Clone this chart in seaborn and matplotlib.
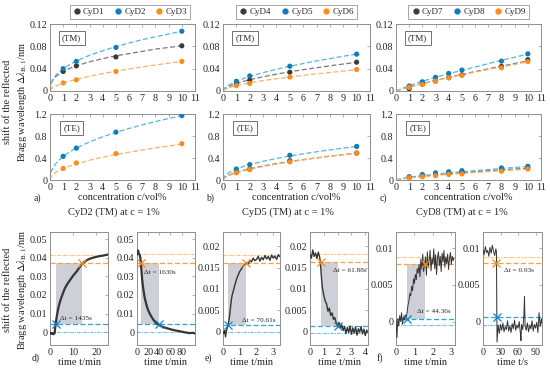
import numpy as np
import matplotlib
matplotlib.use("Agg")
import matplotlib.pyplot as plt
import seaborn as sns

# ---- concentration series (top row) ----
conc_ab = [1, 2, 5, 10]
conc_c = [1, 2, 3, 4, 5, 8, 10]
c_fit = [0, 0.1, 0.25, 0.5, 1, 1.5, 2, 3, 4, 5, 6, 7, 8, 9, 10]

# a) TM / TE
a_tm = {"CyD1": [0.035, 0.045, 0.061, 0.081],
        "CyD2": [0.040, 0.053, 0.078, 0.107],
        "CyD3": [0.0145, 0.020, 0.035, 0.053]}
a_tm_fit = {"CyD1": [0, 0.015, 0.021, 0.027, 0.035, 0.0406, 0.045, 0.0523, 0.058, 0.063, 0.067, 0.071, 0.075, 0.078, 0.081],
            "CyD2": [0, 0.015, 0.022, 0.030, 0.040, 0.0476, 0.0538, 0.064, 0.072, 0.0795, 0.086, 0.092, 0.097, 0.102, 0.107],
            "CyD3": [0, 0.0037, 0.0063, 0.0094, 0.014, 0.0177, 0.0209, 0.0264, 0.0312, 0.0355, 0.0394, 0.0431, 0.0466, 0.0499, 0.053]}
a_te = {"CyD2": [0.43, 0.58, 0.87, 1.17],
        "CyD3": [0.21, 0.31, 0.48, 0.66]}
a_te_fit = {"CyD2": [0, 0.158, 0.235, 0.318, 0.43, 0.513, 0.581, 0.693, 0.786, 0.866, 0.937, 1.002, 1.062, 1.118, 1.17],
            "CyD3": [0, 0.068, 0.106, 0.149, 0.21, 0.256, 0.295, 0.360, 0.415, 0.463, 0.506, 0.546, 0.583, 0.617, 0.655]}

# b) TM / TE
b_tm = {"CyD4": [0.0140, 0.0195, 0.0336, 0.0516],
        "CyD5": [0.0174, 0.0270, 0.0444, 0.0660],
        "CyD6": [0.0096, 0.0135, 0.0250, 0.0385]}
b_tm_fit = {"CyD4": [0, 0.0036, 0.006, 0.009, 0.0135, 0.0171, 0.0202, 0.0255, 0.0302, 0.0344, 0.0382, 0.0417, 0.0451, 0.0483, 0.0513],
            "CyD5": [0, 0.0046, 0.0078, 0.0116, 0.0174, 0.022, 0.026, 0.0329, 0.0389, 0.0443, 0.0492, 0.0538, 0.0581, 0.0623, 0.066],
            "CyD6": [0, 0.0024, 0.0042, 0.0063, 0.0096, 0.0123, 0.0146, 0.0186, 0.022, 0.0251, 0.028, 0.0307, 0.0332, 0.0357, 0.038]}
b_te = {"CyD4": [0.14, 0.20, 0.35, 0.49],
        "CyD5": [0.20, 0.28, 0.45, 0.61],
        "CyD6": [0.13, 0.19, 0.33, 0.49]}
b_te_fit = {"CyD4": [0, 0.040, 0.066, 0.096, 0.14, 0.175, 0.204, 0.255, 0.298, 0.336, 0.371, 0.403, 0.434, 0.462, 0.49],
            "CyD5": [0, 0.066, 0.102, 0.143, 0.20, 0.243, 0.280, 0.340, 0.391, 0.436, 0.476, 0.513, 0.547, 0.579, 0.61],
            "CyD6": [0, 0.034, 0.058, 0.087, 0.13, 0.164, 0.194, 0.245, 0.289, 0.329, 0.365, 0.399, 0.431, 0.461, 0.49]}

# c) TM / TE
c_tm = {"CyD7": [0.0040, 0.0125, 0.018, 0.024, 0.029, 0.044, 0.056],
        "CyD8": [0.0090, 0.0165, 0.0245, 0.0315, 0.0375, 0.0535, 0.0665],
        "CyD9": [0.0065, 0.0115, 0.0175, 0.0235, 0.0280, 0.0415, 0.0525]}
c_tm_fit = {"CyD7": [0, 0.0008, 0.002, 0.0038, 0.0072, 0.0104, 0.0135, 0.019, 0.0245, 0.0297, 0.0348, 0.0397, 0.0445, 0.0492, 0.0538],
            "CyD8": [0, 0.0012, 0.0028, 0.005, 0.0095, 0.0136, 0.0175, 0.0245, 0.031, 0.037, 0.043, 0.049, 0.055, 0.0605, 0.066],
            "CyD9": [0, 0.0008, 0.002, 0.0038, 0.007, 0.010, 0.013, 0.0185, 0.024, 0.029, 0.034, 0.0385, 0.043, 0.0475, 0.052]}
c_te = {"CyD7": [0.05, 0.08, 0.10, 0.12, 0.14, 0.19, 0.22],
        "CyD8": [0.06, 0.10, 0.13, 0.15, 0.17, 0.22, 0.25],
        "CyD9": [0.04, 0.06, 0.078, 0.10, 0.11, 0.16, 0.20]}
c_te_fit = {"CyD7": [0, 0.006, 0.013, 0.023, 0.04, 0.055, 0.068, 0.092, 0.113, 0.132, 0.15, 0.168, 0.185, 0.2, 0.215],
            "CyD8": [0, 0.008, 0.016, 0.028, 0.048, 0.065, 0.08, 0.107, 0.13, 0.15, 0.17, 0.19, 0.21, 0.228, 0.245],
            "CyD9": [0, 0.005, 0.011, 0.02, 0.035, 0.048, 0.06, 0.082, 0.101, 0.119, 0.136, 0.152, 0.168, 0.183, 0.198]}

# ---- time traces (bottom row) ----
d1_t = [0, 0.5, 1, 1.5, 2, 2.4, 3, 3.5, 4.3, 5, 6.4, 7.5, 8.6, 10, 11.4, 12.5, 13.9, 15, 16, 17.2, 18.5, 20, 21.5, 23, 24, 25]
d1_y = [-0.0004, -0.0010, -0.0005, -0.0012, -0.0006, 0.0042, 0.0090, 0.0125, 0.0164, 0.0190, 0.0236, 0.0260, 0.0280,
        0.0305, 0.0325, 0.0345, 0.0369, 0.0380, 0.0389, 0.0396, 0.0401, 0.0406, 0.0410, 0.0413, 0.0416, 0.0418]
d2_t = [0, 1, 2, 3, 4, 5, 6, 7, 8, 9.2, 10.5, 12, 13.5, 15.3, 17.5, 20, 22, 24.5, 27, 30, 33.7, 37, 40, 45, 52, 60,
        68, 77, 85, 94, 100, 104]
d2_y = [0.0418, 0.0422, 0.0440, 0.0425, 0.0420, 0.0416, 0.0400, 0.0375, 0.0330, 0.0285, 0.0250, 0.0218, 0.0190,
        0.0166, 0.0140, 0.0118, 0.0104, 0.0090, 0.0077, 0.0064, 0.0050, 0.0043, 0.0037, 0.0029, 0.0022, 0.0015,
        0.0009, 0.0004, -0.0001, -0.0006, -0.0004, -0.0008]
e1_t = [0, 0.05, 0.1, 0.15, 0.2, 0.25, 0.3, 0.35, 0.4, 0.45, 0.5, 0.55, 0.6, 0.7, 0.8, 0.9, 1.0, 1.1, 1.2, 1.3, 1.4,
        1.5, 1.6, 1.7, 1.8, 1.9, 2.0, 2.1, 2.2, 2.3, 2.4, 2.5, 2.6, 2.7, 2.8, 2.9, 3.0, 3.1, 3.2, 3.3, 3.4]
e1_y = [0.0000, -0.0004, 0.0003, -0.0012, 0.0002, 0.0008, 0.0016, 0.0026, 0.0039, 0.0058, 0.0075, 0.0086, 0.0093,
        0.0108, 0.0122, 0.0132, 0.0141, 0.0147, 0.0153, 0.0157, 0.0161, 0.0158, 0.0167, 0.0163, 0.0172, 0.0166,
        0.0169, 0.0176, 0.0165, 0.0174, 0.0168, 0.0178, 0.0170, 0.0176, 0.0167, 0.0179, 0.0172, 0.0177, 0.0169,
        0.0180, 0.0175]
e2_t = [0, 0.1, 0.2, 0.3, 0.4, 0.5, 0.6, 0.7, 0.75, 0.8, 0.85, 0.9, 1.0, 1.1, 1.2, 1.3, 1.4, 1.5, 1.6, 1.7, 1.8, 1.9,
        2.0, 2.1, 2.2, 2.3, 2.4, 2.5, 2.6, 2.7, 2.8, 2.9, 3.0, 3.1, 3.2, 3.3, 3.4, 3.5, 3.6, 3.7, 3.8, 3.9, 4.0, 4.1, 4.2]
e2_y = [0.0180, 0.0172, 0.0191, 0.0176, 0.0184, 0.0171, 0.0186, 0.0174, 0.0163, 0.0140, 0.0118, 0.0102, 0.0085,
        0.0072, 0.0065, 0.0048, 0.0055, 0.0038, 0.0044, 0.0029, 0.0033, 0.0020, 0.0014, 0.0022, 0.0008, 0.0016,
        0.0003, 0.0012, -0.0004, 0.0010, -0.0002, 0.0013, -0.0006, 0.0009, -0.0003, 0.0011, -0.0008, 0.0007,
        -0.0001, 0.0012, -0.0005, 0.0006, -0.0009, 0.0004, -0.0002]
f1_t = [0, 0.05, 0.1, 0.15, 0.2, 0.25, 0.3, 0.35, 0.4, 0.45, 0.5, 0.55, 0.6, 0.65, 0.7, 0.75, 0.8, 0.85, 0.9, 0.95,
        1.0, 1.05, 1.1, 1.15, 1.2, 1.25, 1.3, 1.35, 1.4, 1.45, 1.5, 1.55, 1.6, 1.65, 1.7, 1.75, 1.8, 1.85, 1.9, 1.95,
        2.0, 2.05, 2.1, 2.15, 2.2, 2.25, 2.3, 2.35, 2.4, 2.45, 2.5, 2.55, 2.6, 2.65, 2.7, 2.75, 2.8, 2.85, 2.9, 2.95,
        3.0, 3.05, 3.1, 3.15]
f1_y = [0.0002, -0.0022, 0.0004, -0.0006, 0.0008, 0.0000, 0.0012, -0.0004, 0.0006, 0.0002, 0.0009, 0.0004, 0.0013,
        0.0022, 0.0028, 0.0038, 0.0035, 0.0048, 0.0042, 0.0058, 0.0052, 0.0064, 0.0057, 0.0072, 0.0066, 0.0078,
        0.0061, 0.0085, 0.0071, 0.0092, 0.0068, 0.0079, 0.0088, 0.0063, 0.0095, 0.0074, 0.0083, 0.0097, 0.0069,
        0.0086, 0.0078, 0.0099, 0.0072, 0.0091, 0.0064, 0.0087, 0.0095, 0.0076, 0.0089, 0.0068, 0.0093, 0.0081,
        0.0097, 0.0074, 0.0088, 0.0079, 0.0092, 0.0071, 0.0086, 0.0094, 0.0078, 0.0089, 0.0083, 0.0087]
f2_t = [0, 2, 4, 6, 8, 10, 12, 14, 16, 18, 20, 22, 23, 23.5, 24, 26, 28, 30, 32, 34, 36, 38, 40, 42, 44, 46, 48, 50,
        52, 54, 56, 58, 60, 62, 64, 65, 66, 68, 70, 71, 72, 74, 76, 78, 80, 82, 84, 86, 88, 90, 92, 94, 96, 98, 100, 101]
f2_y = [0.0098, 0.0091, 0.0102, 0.0094, 0.0097, 0.0089, 0.0101, 0.0093, 0.0104, 0.0096, 0.0090, 0.0099, 0.0095,
        0.0040, -0.0028, -0.0005, -0.0016, -0.0004, -0.0012, -0.0002, -0.0014, -0.0007, -0.0011, 0.0001, -0.0013,
        -0.0006, -0.0015, -0.0003, -0.0010, 0.0002, -0.0012, -0.0005, -0.0009, 0.0000, -0.0016, -0.0026, -0.0004,
        -0.0011, 0.0008, 0.0034, -0.0006, -0.0012, -0.0002, -0.0014, -0.0005, -0.0010, 0.0001, -0.0013, -0.0004,
        -0.0009, -0.0001, -0.0015, 0.0012, -0.0007, 0.0004, -0.0003]

# levels: final, 90 %, 10 %, baseline ; response window t10/t90 ; delta t text
d1_lv = [0.0418, 0.0375, 0.0042, 0.0]
d2_lv = [0.0422, 0.0375, 0.0041, 0.0]
e1_lv = [0.0180, 0.0161, 0.00155, -0.0001]
e2_lv = [0.0182, 0.0163, 0.0014, -0.0004]
f1_lv = [0.0088, 0.0079, 0.0004, -0.00045]
f2_lv = [0.0088, 0.0080, 0.00055, -0.0005]
d1_win, d2_win = (2.4, 13.9), (7, 39)
e1_win, e2_win = (0.3, 1.4), (0.8, 2.0)
f1_win, f2_win = (0.58, 1.55), (23, 24)
dt_text = ["Δt = 1435s", "Δt = 1630s", "Δt = 70.61s", "Δt = 61.88s", "Δt = 44.36s", "Δt = 0.93s"]

W, H = 550, 373
COL = {"dark": "#3b3b3b", "blue": "#0f7dbb", "orange": "#ff8c1a"}
FIT = {"dark": "#7a7a7a", "blue": "#55b6e3", "orange": "#ffb066"}
FRAME = "#8f8f8f"
TXT = "#262626"

sns.set_style("white")
plt.rcParams["font.family"] = ["Liberation Serif", "DejaVu Serif"]
plt.rcParams["mathtext.fontset"] = "stix"
plt.rcParams["text.color"] = TXT
plt.rcParams["axes.labelcolor"] = TXT
plt.rcParams["xtick.color"] = TXT
plt.rcParams["ytick.color"] = TXT


def pos(x0, x1, y0, y1):
    return [x0 / W, 1 - y1 / H, (x1 - x0) / W, (y1 - y0) / H]


def style(ax):
    for sp in ax.spines.values():
        sp.set_color(FRAME)
        sp.set_linewidth(0.7)
    ax.tick_params(direction="in", length=2, width=0.5, color=FRAME, labelsize=7.3, pad=2,
                   top=True, right=True, labelcolor=TXT)


fig = plt.figure(figsize=(5.5, 3.73), dpi=100)

top_cols = [
    (50, 195, ["CyD1", "CyD2", "CyD3"], conc_ab, a_tm, a_tm_fit, a_te, a_te_fit, "a)", 0.55),
    (223, 370, ["CyD4", "CyD5", "CyD6"], conc_ab, b_tm, b_tm_fit, b_te, b_te_fit, "b)", 0.50),
    (396, 541, ["CyD7", "CyD8", "CyD9"], conc_c, c_tm, c_tm_fit, c_te, c_te_fit, "c)", 0.50),
]
shade = ["dark", "blue", "orange"]

for x0, x1, names, conc, tm, tm_fit, te, te_fit, tag, lx in top_cols:
    ax_tm = fig.add_axes(pos(x0, x1, 24, 91))
    ax_te = fig.add_axes(pos(x0, x1, 114, 180))
    for ax, pts, fits, lim, ticks, tlabels, box in [
        (ax_tm, tm, tm_fit, 0.12, [0, 0.04, 0.08, 0.12], ["0", "0.04", "0.08", "0.12"], "(TM)"),
        (ax_te, te, te_fit, 1.2, [0, 0.4, 0.8, 1.2], ["0", "0.4", "0.8", "1.2"], "(TE)"),
    ]:
        for name, sh in zip(names, shade):
            if name in fits:
                sns.lineplot(x=c_fit, y=fits[name], ax=ax, color=FIT[sh], linestyle=(0, (4, 2)),
                             lw=0.9, sort=False, estimator=None, legend=False, zorder=2)
        for name, sh in zip(names, shade):
            if name in pts:
                sns.scatterplot(x=conc, y=pts[name], ax=ax, color=COL[sh], s=14, edgecolor="none",
                                zorder=3, legend=False)
        ax.set_xlim(0, 11)
        ax.set_ylim(0, lim)
        ax.set_xticks(range(12))
        ax.set_xticklabels([str(i) for i in range(12)])
        ax.set_yticks(ticks)
        ax.set_yticklabels(tlabels)
        style(ax)
        ax.text(0.15, 0.79, box, transform=ax.transAxes, ha="center", va="center", fontsize=6.5,
                bbox=dict(boxstyle="square,pad=0.35", fc="white", ec="#707070", lw=0.7))
    handles = [plt.Line2D([], [], ls="none", marker="o", ms=3.5, color=COL[sh]) for sh in shade]
    leg = ax_tm.legend(handles, names, loc="lower center", bbox_to_anchor=(lx, 1.08), ncol=3,
                       fontsize=6.5, frameon=True, fancybox=False, handletextpad=0.2,
                       columnspacing=1.0, borderpad=0.3, handlelength=1.0, borderaxespad=0)
    leg.get_frame().set_edgecolor(FRAME)
    leg.get_frame().set_linewidth(0.7)
    ax_te.set_xlabel("concentration c/vol%", fontsize=7.5, labelpad=1)
    fig.text((x0 - 13) / W, 1 - 198 / H, tag, fontsize=7, ha="center", va="center")

ylab = "shift of the reflected\nBragg wavelength $\\Delta\\lambda_{\\mathrm{B,1}}$/nm"
fig.text(16 / W, 1 - 102 / H, ylab, rotation=90, ha="center", va="center", fontsize=7.5,
         multialignment="center", linespacing=1.3)
fig.text(16 / W, 1 - 290 / H, ylab, rotation=90, ha="center", va="center", fontsize=7.5,
         multialignment="center", linespacing=1.3)

bottom = [
    (50, 108, d1_t, d1_y, d1_lv, d1_win, (0, 25), [0, 10, 20], (-0.007, 0.054),
     [0, 0.01, 0.02, 0.03, 0.04, 0.05], ["0", "0.01", "0.02", "0.03", "0.04", "0.05"], "time t/min",
     (4.3, 0.0075), 1.6, True),
    (137, 195, d2_t, d2_y, d2_lv, d2_win, (0, 104), [0, 20, 40, 60, 80], (-0.007, 0.054),
     [0, 0.01, 0.02, 0.03, 0.04, 0.05], ["0", "0.01", "0.02", "0.03", "0.04", "0.05"], "time t/min",
     (12.3, 0.032), 1.6, False),
    (223, 280, e1_t, e1_y, e1_lv, e1_win, (0, 3.4), [0, 1, 2, 3], (-0.0031, 0.0233),
     [0, 0.005, 0.01, 0.015, 0.02], ["0", "0.005", "0.01", "0.015", "0.02"], "time t/min",
     (1.15, 0.0027), 1.0, True),
    (310, 368, e2_t, e2_y, e2_lv, e2_win, (0, 4.2), [0, 1, 2, 3, 4], (-0.0031, 0.0233),
     [0, 0.005, 0.01, 0.015, 0.02], ["0", "0.005", "0.01", "0.015", "0.02"], "time t/min",
     (1.67, 0.0143), 1.0, False),
    (396, 455, f1_t, f1_y, f1_lv, f1_win, (0, 3.2), [0, 1, 2, 3], (-0.0032, 0.0122),
     [0, 0.005, 0.01], ["0", "0.005", "0.01"], "time t/min", (1.13, 0.0013), 0.7, True),
    (483, 542, f2_t, f2_y, f2_lv, f2_win, (0, 101), [0, 30, 60, 90], (-0.0032, 0.0122),
     [0, 0.005, 0.01], ["0", "0.005", "0.01"], "time t/s", (35.5, 0.007), 0.7, False),
]

for k, (x0, x1, t, y, lv, win, xl, xt, yl, yt, ytl, xlab, tpos, lw, loading) in enumerate(bottom):
    ax = fig.add_axes(pos(x0, x1, 232, 345))
    lo, hi = (lv[2], lv[1])
    ax.fill_between([win[0], win[1]], lo, hi, color="#cfcfd8", lw=0, zorder=1)
    ax.axhline(lv[0], color="#ffc27a", lw=0.8, ls=(0, (3, 1, 1, 1)), zorder=2)
    ax.axhline(lv[1], color="#ffa040", lw=0.9, ls=(0, (4, 2)), zorder=2)
    ax.axhline(lv[2], color="#2fa3dc", lw=0.9, ls=(0, (4, 2)), zorder=2)
    ax.axhline(lv[3], color="#62c3ea", lw=0.8, ls=(0, (3, 1, 1, 1)), zorder=2)
    sns.lineplot(x=t, y=y, ax=ax, color="#353535", lw=lw, sort=False, estimator=None,
                 legend=False, zorder=3)
    if loading:
        bx, ox = win[0], win[1]
    else:
        ox, bx = win[0], win[1]
    ax.plot([bx], [lv[2]], marker="x", ms=6, mew=0.9, color="#1380c4", zorder=4)
    ax.plot([ox], [lv[1]], marker="x", ms=6, mew=0.9, color="#f28a22", zorder=4)
    ax.text(tpos[0], tpos[1], dt_text[k], fontsize=5.2, ha="left", va="center")
    ax.set_xlim(*xl)
    ax.set_ylim(*yl)
    ax.set_xticks(xt)
    ax.set_xticklabels([str(v) for v in xt])
    ax.set_yticks(yt)
    ax.set_yticklabels(ytl)
    ax.set_xlabel(xlab, fontsize=7.5, labelpad=1)
    style(ax)

for x, txt in [(114, "CyD2 (TM) at c = 1%"), (288, "CyD5 (TM) at c = 1%"), (462, "CyD8 (TM) at c = 1%")]:
    fig.text(x / W, 1 - 212 / H, txt, fontsize=7.5, ha="center", va="center")
for x, tag in [(36, "d)"), (208, "e)"), (380, "f)")]:
    fig.text(x / W, 1 - 358 / H, tag, fontsize=7, ha="center", va="center")

fig.savefig("out.png", dpi=100)
